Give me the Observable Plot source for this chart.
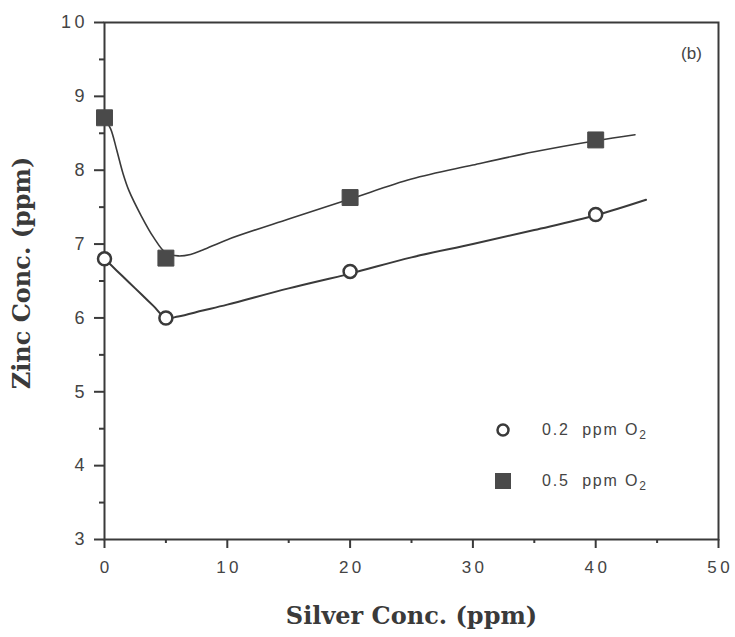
<!DOCTYPE html>
<html><head><meta charset="utf-8">
<script src="https://cdn.jsdelivr.net/npm/d3@7"></script>
<script src="https://cdn.jsdelivr.net/npm/@observablehq/plot@0.6"></script>
<style>
body{margin:0;background:#fff;}
#wrap{position:relative;width:735px;height:637px;}
.leg{position:absolute;font-family:"Liberation Sans",sans-serif;font-size:16px;letter-spacing:1.8px;color:#444;line-height:20px;white-space:pre;}
.leg sub{font-size:12px;vertical-align:-4px;line-height:0;}
</style></head><body><div id="wrap"></div>
<script>
// measured points
const silver = [0, 5, 20, 40];
const zinc02 = [6.8, 6.0, 6.63, 7.40];
const zinc05 = [8.71, 6.81, 7.63, 8.41];
// hand-drawn fitted curves
const curveX02 = [0, 1, 2, 3, 4, 5, 6, 8, 10, 15, 20, 25, 30, 35, 40, 44.1];
const curveY02 = [6.8, 6.64, 6.48, 6.32, 6.16, 6.0, 6.02, 6.10, 6.18, 6.40, 6.60, 6.82, 7.00, 7.19, 7.39, 7.60];
const curveX05 = [0, 0.5, 1, 1.5, 2, 3, 4, 5, 6, 7, 8, 10, 15, 20, 25, 30, 35, 40, 43.2];
const curveY05 = [8.7, 8.56, 8.27, 7.96, 7.72, 7.38, 7.09, 6.88, 6.84, 6.86, 6.92, 7.06, 7.34, 7.61, 7.88, 8.07, 8.25, 8.40, 8.48];
// ticks
const xTicks = [0, 10, 20, 30, 40, 50];
const xMinor = [5, 15, 25, 35, 45];
const yTicks = [3, 4, 5, 6, 7, 8, 9, 10];
const yMinor = [3.5, 4.5, 5.5, 6.5, 7.5, 8.5, 9.5];
const xLabel = "Silver Conc. (ppm)";
const yLabel = "Zinc Conc. (ppm)";
const panelLabel = "(b)";
const seriesNames = ["0.2 ppm O", "0.5 ppm O"];

const ink = "#3a3a3a";
const pts02 = silver.map((x, i) => ({x, y: zinc02[i]}));
const pts05 = silver.map((x, i) => ({x, y: zinc05[i]}));
const c02 = curveX02.map((x, i) => ({x, y: curveY02[i]}));
const c05 = curveX05.map((x, i) => ({x, y: curveY05[i]}));
const spaced = d => String(d).split("").join("\u2009");
const serif = "'DejaVu Serif', 'Liberation Serif', serif";
const sans = "'Liberation Sans', sans-serif";

const plot = Plot.plot({
  width: 735, height: 637,
  marginLeft: 104, marginRight: 17, marginTop: 22, marginBottom: 98,
  x: {domain: [0, 50]},
  y: {domain: [3, 10]},
  style: {fontFamily: sans, fontSize: "16px", color: ink, background: "#fff"},
  marks: [
    Plot.frame({stroke: ink, strokeWidth: 2}),
    Plot.axisX({ticks: xTicks, tickSize: 9, tickPadding: 12, tickFormat: spaced, label: null, strokeWidth: 2, fill: "#444", fontSize: 17, fontFamily: sans}),
    Plot.axisX({ticks: xMinor, tickSize: 4, text: null, label: null, strokeWidth: 2}),
    Plot.axisY({ticks: yTicks, tickSize: 10, tickPadding: 10, tickFormat: spaced, label: null, strokeWidth: 2, fill: "#444", fontSize: 18, fontFamily: sans}),
    Plot.axisY({ticks: yMinor, tickSize: 5, text: null, label: null, strokeWidth: 2}),
    Plot.line(c02, {x: "x", y: "y", curve: "catmull-rom", stroke: ink, strokeWidth: 2}),
    Plot.line(c05, {x: "x", y: "y", curve: "catmull-rom", stroke: ink, strokeWidth: 1.6}),
    Plot.dot(pts02, {x: "x", y: "y", r: 6.5, fill: "#fff", stroke: ink, strokeWidth: 2.5}),
    Plot.dot(pts05, {x: "x", y: "y", symbol: "square", r: 9, fill: "#4a4a4a", stroke: "#4a4a4a", strokeWidth: 1}),
    Plot.text([panelLabel], {frameAnchor: "top-right", dx: -27, dy: 31, textAnchor: "middle", lineAnchor: "middle", fontSize: 17, fontFamily: sans, fill: "#444"}),
    Plot.text([xLabel], {frameAnchor: "bottom", dy: 77, textAnchor: "middle", lineAnchor: "middle", fontFamily: serif, fontSize: 24, fontWeight: "bold", fill: "#3a3a3a"}),
    Plot.text([yLabel], {frameAnchor: "left", dx: -82, dy: -8, rotate: -90, textAnchor: "middle", lineAnchor: "middle", fontFamily: serif, fontSize: 24, fontWeight: "bold", fill: "#3a3a3a"})
  ]
});
const wrap = document.getElementById("wrap");
wrap.appendChild(plot);

// legend
const legRows = [
  {top: 420, sym: `<circle cx="10" cy="10" r="5.5" fill="#fff" stroke="${ink}" stroke-width="2.5"/>`},
  {top: 471, sym: `<rect x="2" y="2" width="16" height="16" fill="#4a4a4a"/>`}
];
legRows.forEach((r, i) => {
  const s = document.createElement("div");
  s.className = "leg";
  s.style.left = "493px"; s.style.top = r.top + "px";
  s.innerHTML = `<svg width="20" height="20">${r.sym}</svg>`;
  wrap.appendChild(s);
  const t = document.createElement("div");
  t.className = "leg";
  t.style.left = "542px"; t.style.top = r.top + "px";
  const parts = seriesNames[i].split(" ");
  t.innerHTML = `${parts[0]}  ${parts[1]} ${parts[2]}<sub>2</sub>`;
  wrap.appendChild(t);
});
</script>
</body></html>
